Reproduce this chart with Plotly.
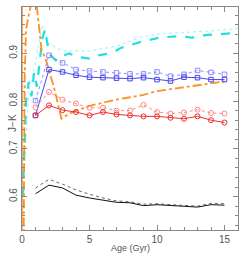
import plotly.graph_objects as go

ages = [1, 2, 3, 4, 5, 6, 7, 8, 9, 10, 11, 12, 13, 14, 15]

black_solid = [0.606, 0.624, 0.618, 0.603, 0.597, 0.592, 0.588, 0.587, 0.581, 0.583, 0.581, 0.580, 0.578, 0.583, 0.582]
black_dotted = [0.618, 0.636, 0.626, 0.614, 0.605, 0.597, 0.591, 0.589, 0.584, 0.585, 0.583, 0.582, 0.580, 0.586, 0.585]
blue_solid = [0.770, 0.866, 0.861, 0.854, 0.850, 0.849, 0.848, 0.847, 0.849, 0.845, 0.842, 0.850, 0.849, 0.845, 0.845]
blue_dotted = [0.801, 0.896, 0.880, 0.866, 0.863, 0.861, 0.859, 0.857, 0.857, 0.861, 0.852, 0.856, 0.864, 0.860, 0.856]
red_solid = [0.770, 0.791, 0.781, 0.777, 0.770, 0.777, 0.772, 0.770, 0.768, 0.768, 0.765, 0.763, 0.768, 0.760, 0.755]
red_dotted = [0.787, 0.819, 0.803, 0.795, 0.786, 0.786, 0.780, 0.780, 0.792, 0.777, 0.774, 0.776, 0.782, 0.775, 0.774]

orange_ages = [0.12, 0.15, 0.2, 0.3, 0.4, 0.5, 0.65, 0.85, 1.09, 1.45, 1.7, 1.94, 2.43, 2.92,
               3.4, 4, 5, 6, 7, 8, 9, 10, 11, 12, 13, 14, 15]
orange_vals = [0.50, 0.65, 0.85, 0.95, 0.97, 0.98, 1.0, 1.05, 1.0, 0.906, 0.892, 0.871, 0.822, 0.763,
               0.772, 0.780, 0.790, 0.797, 0.803, 0.808, 0.813, 0.821, 0.825, 0.829, 0.833, 0.837, 0.841]

orange_thin_ages = [0.02, 0.03]
orange_thin_vals = [0.50, 1.10]

cyan_dash_ages = [0.05, 0.3, 0.5, 0.7, 0.9, 1.1, 1.5, 1.7, 2.0, 2.5, 3.0, 3.5, 4.0, 5.0, 5.5, 6.5, 7.0,
                  7.3, 8.8, 10.2, 11.6, 12.6, 13.6, 15.1, 16.0]
cyan_dash_vals = [0.60, 0.80, 0.84, 0.81, 0.86, 0.83, 0.93, 0.95, 0.90, 0.885, 0.895, 0.90, 0.893, 0.889,
                  0.895, 0.90, 0.906, 0.911, 0.924, 0.933, 0.936, 0.933, 0.938, 0.941, 0.943]

cyan_dot_ages = [0.05, 0.5, 1.0, 1.5, 2.0, 3.0, 5.0, 7.0, 8.8, 10.2, 11.6, 13.0, 14.5, 16.0]
cyan_dot_vals = [0.60, 0.82, 0.88, 0.96, 0.92, 0.905, 0.905, 0.915, 0.934, 0.941, 0.943, 0.945, 0.948, 0.952]

x_ticks = [0, 5, 10, 15]
y_ticks = [0.6, 0.7, 0.8, 0.9]

fig = go.Figure()

fig.add_trace(go.Scatter(x=orange_thin_ages, y=orange_thin_vals, mode="lines",
                         line=dict(color="#ff9a30", width=1)))
fig.add_trace(go.Scatter(x=cyan_dot_ages, y=cyan_dot_vals, mode="lines",
                         line=dict(color="#aaf5f5", width=1.2, dash="dot")))
fig.add_trace(go.Scatter(x=cyan_dash_ages, y=cyan_dash_vals, mode="lines",
                         line=dict(color="#22e0e0", width=2.2, dash="dash")))
fig.add_trace(go.Scatter(x=orange_ages, y=orange_vals, mode="lines",
                         line=dict(color="#ff9020", width=1.8, dash="dashdot")))

fig.add_trace(go.Scatter(x=ages, y=black_dotted, mode="lines",
                         line=dict(color="#666666", width=1, dash="dot")))
fig.add_trace(go.Scatter(x=ages, y=black_solid, mode="lines",
                         line=dict(color="#111111", width=1)))

fig.add_trace(go.Scatter(x=ages, y=blue_dotted, mode="lines+markers",
                         line=dict(color="#8c8cff", width=1, dash="dot"),
                         marker=dict(symbol="square-open", size=4.5, color="#8c8cff", line=dict(width=1))))
fig.add_trace(go.Scatter(x=ages, y=blue_solid, mode="lines+markers",
                         line=dict(color="#4646ee", width=1),
                         marker=dict(symbol="square-open", size=4.5, color="#4646ee", line=dict(width=1))))
fig.add_trace(go.Scatter(x=ages, y=red_dotted, mode="lines+markers",
                         line=dict(color="#ff8888", width=1, dash="dot"),
                         marker=dict(symbol="circle-open", size=5, color="#ff8888", line=dict(width=1))))
fig.add_trace(go.Scatter(x=ages, y=red_solid, mode="lines+markers",
                         line=dict(color="#ee3030", width=1),
                         marker=dict(symbol="circle-open", size=5, color="#ee3030", line=dict(width=1))))

axis_common = dict(showgrid=False, zeroline=False, showline=True, linecolor="#888888", linewidth=1,
                   mirror="allticks", ticks="inside", ticklen=5, tickcolor="#888888", automargin=False,
                   tickfont=dict(family="Liberation Sans", size=10, color="#555555"))

fig.update_xaxes(range=[0, 16], tickvals=x_ticks, ticktext=[str(v) for v in x_ticks],
                 minor=dict(dtick=1, tick0=0, ticks="inside", ticklen=3, tickcolor="#888888"),
                 **axis_common)
fig.update_yaxes(range=[0.53, 0.997], tickvals=y_ticks, ticktext=["0.6", "0.7", "0.8", "0.9"],
                 tickangle=-90,
                 minor=dict(dtick=0.02, tick0=0, ticks="inside", ticklen=3, tickcolor="#888888"),
                 **axis_common)

fig.add_annotation(text="Age (Gyr)", xref="paper", yref="paper", x=0.5, y=0, yshift=-11,
                   xanchor="center", yanchor="top", showarrow=False,
                   font=dict(family="Liberation Sans", size=9, color="#555555"))
fig.add_annotation(text="J\u2212K", xref="paper", yref="paper", x=0, y=0.48, xshift=-9,
                   xanchor="center", yanchor="middle", textangle=-90, showarrow=False,
                   font=dict(family="Liberation Sans", size=10, color="#555555"))

fig.update_layout(width=240, height=256, showlegend=False,
                  margin=dict(l=21.5, r=1.5, t=7, b=26, autoexpand=False),
                  paper_bgcolor="white", plot_bgcolor="white")

fig.write_html("out.html", config={"displayModeBar": False},
               post_script="document.body.style.margin='0px';")
